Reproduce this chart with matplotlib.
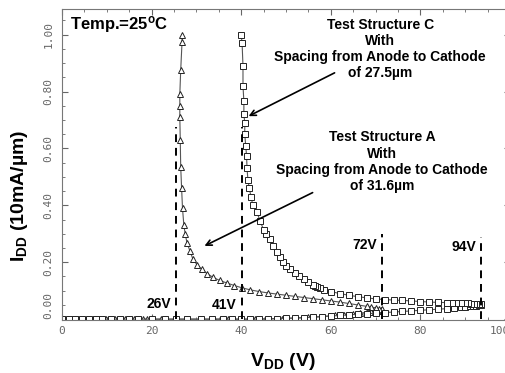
import numpy as np
import matplotlib
matplotlib.use("Agg")
import matplotlib.pyplot as plt
from matplotlib.ticker import MultipleLocator, FixedLocator

plt.rcParams['mathtext.fontset'] = 'custom'
plt.rcParams['mathtext.rm'] = 'Liberation Sans'
plt.rcParams['mathtext.bf'] = 'Liberation Sans:bold'
plt.rcParams['mathtext.it'] = 'Liberation Sans:italic'

# Test structure A (triangles): off-state branch, then snapback branch
a_off_v = [0, 0.7, 1.4, 2.1, 2.8, 3.5, 4.2, 4.9, 5.6, 6.3, 7, 7.7, 8.4, 9.1, 9.8, 10.5,
           11.2, 11.9, 12.6, 13.3, 14, 15, 16, 17, 18, 19, 20, 22, 25, 28, 31, 34, 37,
           40, 43, 46, 49, 52, 55, 58, 61, 63, 65, 66.5, 68, 69, 69.8, 70.4, 70.9, 71.3, 71.5]
a_off_i = [0, 0, 0, 0, 0, 0, 0, 0, 0, 0, 0, 0, 0, 0, 0, 0,
           0, 0, 0, 0, 0, 0, 0, 0, 0, 0, 0, 0, 0, 0, 0, 0, 0,
           0, 0, 0.001, 0.002, 0.004, 0.006, 0.009, 0.013, 0.016, 0.019, 0.021, 0.024,
           0.026, 0.028, 0.029, 0.030, 0.032, 0.033]
a_snap_v = [71.5, 70.8, 70, 69, 68, 66, 64, 62, 60, 58, 56, 54, 52, 50, 48, 46, 44, 42,
            40.2, 38.5, 36.8, 35.2, 33.7, 32.4, 31.2, 30.1, 29.2, 28.6, 27.9, 27.5, 27.2,
            26.9, 26.7, 26.5, 26.4, 26.3, 26.3, 26.3, 26.5, 26.8, 26.8]
a_snap_i = [0.035, 0.037, 0.040, 0.042, 0.045, 0.050, 0.055, 0.060, 0.064, 0.068, 0.072,
            0.076, 0.080, 0.084, 0.088, 0.092, 0.097, 0.103, 0.110, 0.118, 0.127, 0.136,
            0.147, 0.160, 0.175, 0.192, 0.212, 0.238, 0.268, 0.300, 0.330, 0.390, 0.460,
            0.535, 0.630, 0.710, 0.750, 0.790, 0.875, 0.975, 1.0]

# Test structure C (squares)
c_off_v = [0, 1.5, 3, 4.5, 6, 7.5, 9, 11, 13, 15, 17, 20, 23, 25.5, 28, 31, 33.5, 36, 38,
           40, 42, 44, 46, 48, 50, 52, 54, 56, 58, 60, 62, 64, 66, 68, 70, 72, 74, 76, 78,
           80, 82, 84, 86, 87.5, 89, 90, 91, 91.8, 92.5, 93, 93.5]
c_off_i = [0, 0, 0, 0, 0, 0, 0, 0, 0, 0, 0, 0, 0, 0, 0, 0, 0, 0, 0,
           0, 0, 0, 0.001, 0.002, 0.003, 0.004, 0.005, 0.007, 0.009, 0.011, 0.013, 0.015,
           0.017, 0.019, 0.021, 0.023, 0.025, 0.027, 0.029, 0.031, 0.033, 0.035, 0.037,
           0.039, 0.041, 0.043, 0.045, 0.046, 0.047, 0.048, 0.049]
c_snap_v = [93.5, 93, 92.5, 92, 91.3, 90.6, 90, 89, 88, 87, 86, 84, 82, 80, 78, 76, 74,
            72, 70, 68, 66, 64, 62, 60, 58.5, 57.5, 57, 56.5, 56, 55, 54, 53, 52, 51, 50,
            49.3, 48.6, 48, 47.2, 46.4, 45.6, 45, 44.2, 43.5, 42.6, 42.2, 41.8, 41.5, 41.3,
            41.2, 41, 40.8, 40.8, 40.6, 40.6, 40.4, 40.4, 40.2, 40]
c_snap_i = [0.053, 0.053, 0.053, 0.054, 0.054, 0.055, 0.055, 0.056, 0.057, 0.057, 0.058,
            0.059, 0.060, 0.062, 0.064, 0.066, 0.067, 0.069, 0.071, 0.075, 0.079, 0.084,
            0.090, 0.097, 0.103, 0.108, 0.112, 0.116, 0.120, 0.130, 0.140, 0.150, 0.162,
            0.175, 0.188, 0.200, 0.218, 0.236, 0.258, 0.280, 0.298, 0.315, 0.345, 0.377,
            0.400, 0.430, 0.460, 0.490, 0.530, 0.575, 0.610, 0.650, 0.690, 0.720, 0.765,
            0.820, 0.890, 0.970, 1.0]

# breakdown / holding voltages marked with dashed lines
vlines_x = [25.4, 40.2, 71.4, 93.5]
vlines_top = [0.677, 0.677, 0.298, 0.290]
vlines_lab = ["26V", "41V", "72V", "94V"]
vlab_pos = [(24.4, 0.053), (39.0, 0.050), (70.4, 0.262), (92.4, 0.255)]

xticks = [0, 20, 40, 60, 80, 100]
yticks = [0.0, 0.2, 0.4, 0.6, 0.8, 1.0]

fig = plt.figure(figsize=(5.06, 3.73), dpi=100)
ax = fig.add_axes([0.1225, 0.1421, 0.8854, 0.8338])

lc = '#555555'
mc = '#222222'
ax.plot(a_off_v, a_off_i, color=lc, lw=0.8, marker='^', ms=4.5, mfc='white', mec=mc, mew=0.7)
ax.plot(a_snap_v, a_snap_i, color=lc, lw=0.8, marker='^', ms=4.5, mfc='white', mec=mc, mew=0.7)
ax.plot(c_off_v, c_off_i, color=lc, lw=0.8, marker='s', ms=4.8, mfc='white', mec=mc, mew=0.7)
ax.plot(c_snap_v, c_snap_i, color=lc, lw=0.8, marker='s', ms=4.8, mfc='white', mec=mc, mew=0.7)

for x, top, lab, pos in zip(vlines_x, vlines_top, vlines_lab, vlab_pos):
    ax.plot([x, x], [0, top], color='black', lw=1.4, ls=(0, (4, 3)))
    ax.text(pos[0], pos[1], lab, ha='right', va='center', fontsize=10,
            fontweight='bold', family='Liberation Sans')

ax.set_xlim(0, 100)
ax.set_ylim(-0.003, 1.09)
ax.xaxis.set_major_locator(FixedLocator(xticks))
ax.yaxis.set_major_locator(FixedLocator(yticks))
ax.xaxis.set_minor_locator(MultipleLocator(5))
ax.yaxis.set_minor_locator(MultipleLocator(0.05))
ax.set_xticklabels([str(t) for t in xticks])
ax.set_yticklabels(["%.2f" % t for t in yticks])

ax.tick_params(which='both', direction='in', top=True, right=True, colors='#666666',
               labelcolor='#666666')
ax.tick_params(which='major', length=4, width=0.8)
ax.tick_params(which='minor', length=2.5, width=0.6)
ax.tick_params(axis='x', labelsize=8, pad=4)
ax.tick_params(axis='y', labelsize=8, pad=6, labelrotation=90)
for lab in ax.get_xticklabels() + ax.get_yticklabels():
    lab.set_family('DejaVu Sans Mono')
for lab in ax.get_yticklabels():
    lab.set_va('center')
ax.get_yticklabels()[0].set_va('bottom')
ax.get_xticklabels()[-1].set_ha('right')
for s in ax.spines.values():
    s.set_color('#777777')
    s.set_linewidth(0.8)

ax.text(1.8, 1.035, r"Temp.=25$^{\mathbf{o}}$C", ha='left', va='center', fontsize=12,
        fontweight='bold', family='Liberation Sans')
ax.text(71.0, 0.949, "Test Structure C\nWith\nSpacing from Anode to Cathode\nof 27.5µm",
        ha='center', va='center', multialignment='center', fontsize=10,
        fontweight='bold', family='Liberation Sans')
ax.text(71.4, 0.553, "Test Structure A\nWith\nSpacing from Anode to Cathode\nof 31.6µm",
        ha='center', va='center', multialignment='center', fontsize=10,
        fontweight='bold', family='Liberation Sans')
ax.annotate("", xy=(41.1, 0.709), xytext=(61.4, 0.870),
            arrowprops=dict(arrowstyle='->', color='black', lw=1.2))
ax.annotate("", xy=(31.25, 0.253), xytext=(56.5, 0.449),
            arrowprops=dict(arrowstyle='->', color='black', lw=1.2))

fig.text(283 / 506, 1 - 362 / 373, r"$\mathbf{V_{DD}}$ (V)", ha='center', va='center',
         fontsize=14, fontweight='bold', family='Liberation Sans')
fig.text(20 / 506, 1 - 196 / 373, r"$\mathbf{I_{DD}}$ (10mA/µm)", ha='center', va='center',
         rotation=90, fontsize=14, fontweight='bold', family='Liberation Sans')

fig.savefig("out.png", dpi=100)
